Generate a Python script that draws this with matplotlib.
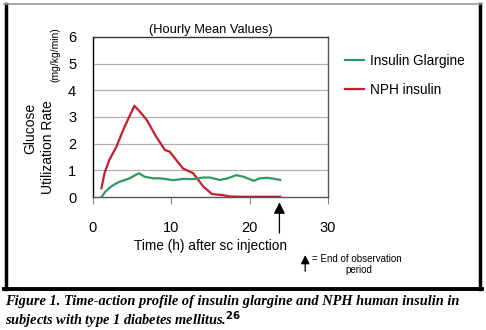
import matplotlib
matplotlib.use("Agg")
import matplotlib.pyplot as plt
from matplotlib.lines import Line2D

plt.rcParams['font.family'] = ['Liberation Sans', 'DejaVu Sans']

# hourly mean glucose utilization rate (mg/kg/min)
glargine_t = [1.1, 1.6, 2.2, 2.8, 3.4, 4.0, 4.7, 5.4, 5.9, 6.6, 7.7, 8.6, 9.4, 10.2, 11.0,
              11.5, 12.8, 14.1, 14.9, 16.2, 17.2, 18.3, 19.2, 20.5, 21.3, 22.2, 23.2, 23.9]
glargine_y = [0.0, 0.2, 0.36, 0.48, 0.57, 0.63, 0.7, 0.82, 0.89, 0.76, 0.7, 0.7, 0.67, 0.63, 0.66,
              0.68, 0.67, 0.73, 0.73, 0.64, 0.7, 0.82, 0.76, 0.61, 0.7, 0.72, 0.68, 0.64]
nph_t = [1.1, 1.5, 2.1, 3.0, 4.0, 5.3, 6.0, 6.9, 8.0, 9.2, 9.8, 10.6, 11.5, 12.8, 14.1,
         15.2, 16.6, 17.5, 19.0, 21.0, 23.9]
nph_y = [0.33, 0.9, 1.39, 1.88, 2.6, 3.42, 3.2, 2.88, 2.3, 1.76, 1.7, 1.4, 1.07, 0.89, 0.39,
         0.11, 0.07, 0.02, 0.01, 0.01, 0.01]

x_ticks = [0, 10, 20, 30]
y_ticks = [0, 1, 2, 3, 4, 5, 6]
end_of_observation = 23.8

green = '#2e9a62'
red = '#c81e2a'

fig = plt.figure(figsize=(4.86, 3.30), dpi=100)
ax = fig.add_axes([0.191, 0.403, 0.484, 0.485])

for y in y_ticks[1:-1]:
    ax.axhline(y, color='#b0b0b0', lw=0.9, zorder=0)

ax.plot(glargine_t, glargine_y, color=green, lw=1.6, label='Insulin Glargine', zorder=3)
ax.plot(nph_t, nph_y, color=red, lw=1.6, label='NPH insulin', zorder=2)

ax.set_xlim(0, 30)
ax.set_ylim(0, 6)
ax.set_xticks(x_ticks)
ax.set_yticks(y_ticks)
ax.tick_params(axis='x', length=5, color='#888888', pad=12, labelsize=10.5)
ax.tick_params(axis='y', length=0, pad=12, labelsize=10.5)
ax.spines['left'].set_color('black')
ax.spines['top'].set_color('#333333')
ax.spines['right'].set_color('#555555')
ax.spines['bottom'].set_color('#555555')
for s in ax.spines.values():
    s.set_linewidth(1.0)

ax.set_xlabel('Time (h) after sc injection', fontsize=9.8, labelpad=3)
ax.set_title('(Hourly Mean Values)', fontsize=9.3, pad=3)

# two-line y label
fig.text(0.062, 0.612, 'Glucose', rotation=90, ha='center', va='center', fontsize=10)
fig.text(0.099, 0.555, 'Utilization Rate', rotation=90, ha='center', va='center', fontsize=10)
fig.text(0.113, 0.835, '(mg/kg/min)', rotation=90, ha='center', va='center', fontsize=7.4)

ax.legend(loc='upper left', bbox_to_anchor=(1.05, 0.93), frameon=False, fontsize=9.8,
          handlelength=1.4, handletextpad=0.4, labelspacing=1.1, borderaxespad=0)

# end of observation arrow
ax.annotate('', xy=(end_of_observation, -0.2), xytext=(end_of_observation, -1.35),
            xycoords='data', annotation_clip=False,
            arrowprops=dict(arrowstyle='-|>', color='black', lw=0.9, mutation_scale=17,
                            shrinkA=0, shrinkB=0))
ax.annotate('', xy=(0.628, 0.227), xytext=(0.628, 0.178), xycoords='figure fraction',
            arrowprops=dict(arrowstyle='-|>', color='black', lw=0.9, mutation_scale=13,
                            shrinkA=0, shrinkB=0))
fig.text(0.642, 0.215, '= End of observation', fontsize=7, va='center')
fig.text(0.71, 0.182, 'period', fontsize=7, va='center')

# frame around the figure panel
fig.add_artist(Line2D([0.013, 0.013], [0.124, 0.988], color='black', lw=2.5))
fig.add_artist(Line2D([0.988, 0.988], [0.124, 0.988], color='black', lw=2.5))
fig.add_artist(Line2D([0.009, 0.992], [0.124, 0.124], color='black', lw=2.8))
fig.add_artist(Line2D([0.009, 0.992], [0.988, 0.988], color='#999999', lw=1.2))

fig.text(0.010, 0.085, 'Figure 1. Time-action profile of insulin glargine and NPH human insulin in',
         family='Liberation Serif', style='italic', weight='bold', fontsize=10.4, va='center')
fig.text(0.010, 0.030, r'subjects with type 1 diabetes mellitus.$^{\mathbf{26}}$',
         family='Liberation Serif', style='italic', weight='bold', fontsize=10.4, va='center')

fig.savefig('out.png', dpi=100)
